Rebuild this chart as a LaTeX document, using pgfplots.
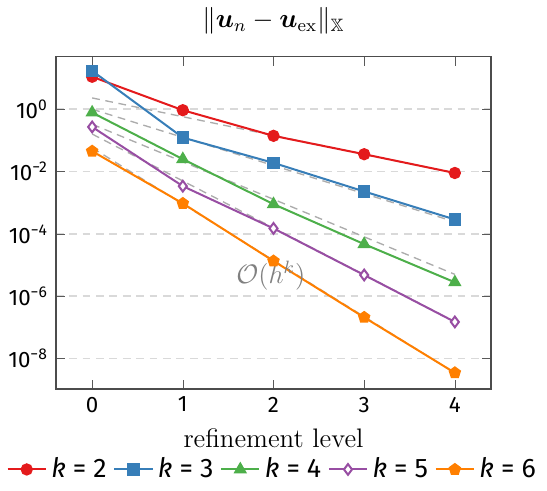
\documentclass[border=0pt]{standalone}
\usepackage{pgfplots}
\pgfplotsset{compat=1.18}
\usepackage{amssymb}
\usepackage{bm}
\usepackage{fontspec}
\setsansfont{Fira Sans}
\definecolor{cred}{HTML}{E41A1C}
\definecolor{cblue}{HTML}{377EB8}
\definecolor{cgreen}{HTML}{4DAF4A}
\definecolor{cpurple}{HTML}{984EA3}
\definecolor{corange}{HTML}{FF7F00}
\begin{document}
\begin{tikzpicture}
\begin{axis}[
  scale only axis,
  width=195pt, height=149pt,
  ymode=log,
  xmin=-0.4, xmax=4.4,
  ymin=1.05e-9, ymax=49,
  xtick={0,1,2,3,4},
  ytick={1e-8,1e-6,1e-4,1e-2,1},
  yticklabels={10\textsuperscript{−8},10\textsuperscript{−6},10\textsuperscript{−4},10\textsuperscript{−2},10\textsuperscript{0}},
  xticklabels={0,1,2,3,4},
  ticklabel style={font=\sffamily},
  minor tick num=0,
  ymajorgrids,
  major grid style={dash pattern=on 3.5pt off 2.5pt, gray!30, line width=0.7pt},
  tick style={gray!70!black},
  axis line style={gray!60!black, line width=0.7pt},
  title={$\|\bm{u}_n-\bm{u}_{\mathrm{ex}}\|_{\mathbb{X}}$},
  title style={font=\large, at={(axis description cs:0.5,1)}, anchor=center, yshift=10pt},
  xlabel={refinement level},
  xlabel style={font=\large, at={(axis description cs:0.5,0)}, anchor=center, yshift=-22pt},
  legend columns=5,
  legend style={at={(axis description cs:0.5,0)}, anchor=center, yshift=-36pt, draw=none, font=\sffamily\large, /tikz/every even column/.append style={column sep=1pt}},
  legend image post style={line width=0.9pt},
  every axis plot/.append style={line width=0.9pt},
]
% reference slopes
\addplot[gray!65, dash pattern=on 3.5pt off 2.5pt, line width=0.6pt, forget plot] coordinates {(0,2.3) (4,0.0089844)};
\addplot[gray!65, dash pattern=on 3.5pt off 2.5pt, line width=0.6pt, forget plot] coordinates {(0,1.0) (4,0.00024414)};
\addplot[gray!65, dash pattern=on 3.5pt off 2.5pt, line width=0.6pt, forget plot] coordinates {(0,0.33) (4,5.0354e-6)};
\addplot[gray!65, dash pattern=on 3.5pt off 2.5pt, line width=0.6pt, forget plot] coordinates {(0,0.16) (4,1.5259e-7)};
\addplot[gray!65, dash pattern=on 3.5pt off 2.5pt, line width=0.6pt, forget plot] coordinates {(0,0.058) (4,3.4571e-9)};

\addplot[cred, mark=*, mark size=2.3pt] coordinates {(0,11) (1,0.93) (2,0.14) (3,0.036) (4,0.009)};
\addlegendentry{\textit{k} = 2}
\addplot[cblue, mark=square*, mark size=2.3pt] coordinates {(0,17) (1,0.123) (2,0.019) (3,0.0023) (4,2.9e-4)};
\addlegendentry{\textit{k} = 3}
\addplot[cgreen, mark=triangle*, mark size=2.6pt] coordinates {(0,0.78) (1,0.025) (2,9e-4) (3,4.7e-5) (4,2.8e-6)};
\addlegendentry{\textit{k} = 4}
\addplot[cpurple, mark=diamond*, mark options={fill=white}, mark size=2.4pt] coordinates {(0,0.27) (1,0.0034) (2,1.5e-4) (3,4.8e-6) (4,1.5e-7)};
\addlegendentry{\textit{k} = 5}
\addplot[corange, mark=pentagon*, mark size=2.4pt] coordinates {(0,0.045) (1,9.5e-4) (2,1.35e-5) (3,2.1e-7) (4,3.5e-9)};
\addlegendentry{\textit{k} = 6}

\node[text=gray, font=\large] at (axis cs:1.97,4.7e-6) {$\mathcal{O}(h^k)$};
\end{axis}
\end{tikzpicture}
\end{document}
